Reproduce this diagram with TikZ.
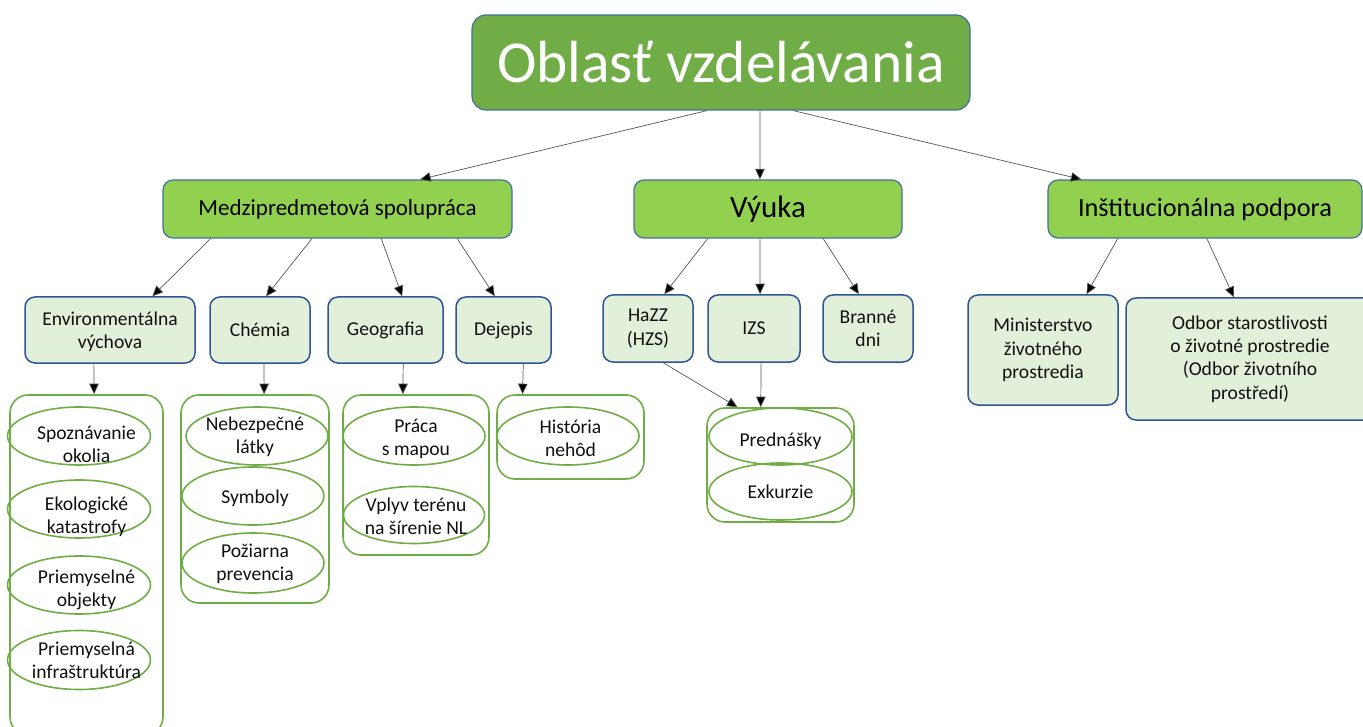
\documentclass[tikz,border=0pt]{standalone}
\usepackage{fontspec}
\setmainfont{Carlito}
\usetikzlibrary{shapes.geometric,arrows.meta,calc}
\definecolor{topgreen}{HTML}{70AD47}
\definecolor{midgreen}{HTML}{92D050}
\definecolor{leafgreen}{HTML}{E2F0D9}
\definecolor{boxblue}{HTML}{41719C}
\definecolor{leafblue}{HTML}{2F5597}
\definecolor{contgreen}{HTML}{70AD47}
\definecolor{txt}{HTML}{111111}
\definecolor{arrgray}{HTML}{555555}
\tikzset{
  topbox/.style={rectangle, rounded corners=14pt, fill=topgreen, draw=boxblue, line width=1.2pt, text=white, inner sep=0pt, font=\fontsize{59.5}{70}\selectfont},
  midbox/.style={rectangle, rounded corners=10pt, fill=midgreen, draw=boxblue, line width=1.2pt, text=black, inner sep=0pt},
  leafbox/.style={rectangle, rounded corners=10pt, fill=leafgreen, draw=leafblue, line width=1.5pt, text=txt, inner sep=0pt, align=center, font=\fontsize{19.6}{23.2}\selectfont},
  contbox/.style={rectangle, rounded corners=18pt, draw=contgreen, line width=1.6pt, fill=white, inner sep=0pt},
  ell/.style={ellipse, draw=contgreen, line width=1.6pt, inner sep=0pt},
  etext/.style={text=txt, align=center, inner sep=0pt, font=\fontsize{19.6}{23.2}\selectfont},
  arr/.style={draw=arrgray, line width=0.7pt, -{Triangle[length=10.5pt,width=9.5pt,fill=black]}},
}
\begin{document}
\begin{tikzpicture}[x=1pt,y=-1pt]
\useasboundingbox (0,0) rectangle (1363,727);
% top
\node[topbox, minimum width=498pt, minimum height=95pt] (top) at (721,62.5) {Oblasť vzdelávania};
% level 2
\node[midbox, minimum width=349pt, minimum height=58pt, font=\fontsize{23}{28}\selectfont] (medzi) at (337.5,209) {Medzipredmetová spolupráca};
\node[midbox, minimum width=268pt, minimum height=58pt, font=\fontsize{31}{37}\selectfont] (vyuka) at (768,209) {Výuka};
\node[midbox, minimum width=314pt, minimum height=58pt, font=\fontsize{26.3}{31}\selectfont] (inst) at (1205,209) {Inštitucionálna podpora};
% level 3
\node[leafbox, minimum width=170pt, minimum height=66pt, text depth=0pt] (env) at (110,330) {Environmentálna\\výchova\rule{0pt}{0pt}};
\node[leafbox, minimum width=100pt, minimum height=66pt] (chem) at (260,330) {Chémia};
\node[leafbox, minimum width=115pt, minimum height=66pt] (geo) at (385.5,330) {Geografia};
\node[leafbox, minimum width=95pt, minimum height=66pt] (dej) at (503.5,330) {Dejepis};
\node[leafbox, minimum width=90pt, minimum height=67pt] (hazz) at (648,328.5) {HaZZ\\(HZS)};
\node[leafbox, minimum width=92pt, minimum height=67pt] (izs) at (754,328.5) {IZS};
\node[leafbox, minimum width=90pt, minimum height=67pt] (branne) at (868,328.5) {Branné\\dni};
\node[leafbox, minimum width=150pt, minimum height=110pt] (minis) at (1043,350) {Ministerstvo\\životného\\prostredia};
\node[leafbox, minimum width=248pt, minimum height=122pt] (odbor) at (1250,359) {Odbor starostlivosti\\o životné prostredie\\(Odbor životního\\prostředí)};
% containers
\node[contbox, minimum width=153pt, minimum height=340pt] (envc) at (86.5,565) {};
\node[contbox, minimum width=148pt, minimum height=208pt] (chemc) at (255,499) {};
\node[contbox, minimum width=146pt, minimum height=160pt] (geoc) at (416,475) {};
\node[contbox, minimum width=147pt, minimum height=84pt] (dejc) at (570.5,437) {};
\node[contbox, minimum width=147pt, minimum height=114pt] (vyc) at (780.5,465) {};
% ellipses
\node[ell, minimum width=143pt, minimum height=58pt] (e1) at (79,436) {};
\node[ell, minimum width=143pt, minimum height=58pt] (e2) at (79,509) {};
\node[ell, minimum width=143pt, minimum height=58pt] (e3) at (79,585) {};
\node[ell, minimum width=143pt, minimum height=59pt] (e4) at (79,660) {};
\node[ell, minimum width=142pt, minimum height=58pt] (c1) at (257,436) {};
\node[ell, minimum width=142pt, minimum height=58pt] (c2) at (253,496) {};
\node[ell, minimum width=142pt, minimum height=60pt] (c3) at (253,563) {};
\node[ell, minimum width=142pt, minimum height=58pt] (g1) at (414,436) {};
\node[ell, minimum width=141pt, minimum height=57pt] (g2) at (414,515) {};
\node[ell, minimum width=142pt, minimum height=58pt] (d1) at (568,436) {};
\node[ell, minimum width=143pt, minimum height=57pt] (v1) at (780.5,436.5) {};
\node[ell, minimum width=143pt, minimum height=57pt] (v2) at (780.5,491.5) {};
% ellipse texts
\node[etext] (t1) at (envc.center |- e1.center) [yshift=-8pt] {Spoznávanie\\okolia};
\node[etext] (t2) at (envc.center |- e2.center) [yshift=-8pt] {Ekologické\\katastrofy};
\node[etext] (t3) at (envc.center |- e3.center) [yshift=-5pt] {Priemyselné\\objekty};
\node[etext] (t4) at (envc.center |- e4.center) {Priemyselná\\infraštruktúra};
\node[etext] (t5) at (chemc.center |- c1.center) [yshift=-1pt] {Nebezpečné\\látky};
\node[etext] (t6) at (chemc.center |- c2.center) [yshift=-2pt] {Symboly};
\node[etext] (t7) at (chemc.center |- c3.center) [yshift=-1pt] {Požiarna\\prevencia};
\node[etext] (t8) at (geoc.center |- g1.center) [yshift=-3pt] {Práca\\s mapou};
\node[etext] (t9) at (geoc.center |- g2.center) [yshift=-1pt] {Vplyv terénu\\na šírenie NL};
\node[etext] (t10) at (dejc.center |- d1.center) [yshift=-2pt] {História\\nehôd};
\node[etext] (t11) at (vyc.center |- v1.center) [yshift=-5pt] {Prednášky};
\node[etext] (t12) at (vyc.center |- v2.center) {Exkurzie};
% connectors level 1
\draw[arr] ($(top.south west)!0.472!(top.south east)$) -- ($(medzi.north west)!0.736!(medzi.north east)$);
\draw[arr] ($(top.south west)!0.5783!(top.south east)$) -- ($(vyuka.north west)!0.4701!(vyuka.north east)$);
\draw[arr] ($(top.south west)!0.6446!(top.south east)$) -- ($(inst.north west)!0.108!(inst.north east)$);
% level 2
\draw[arr] ($(medzi.south west)!0.1375!(medzi.south east)$) -- ($(env.north west)!0.747!(env.north east)$);
\draw[arr] ($(medzi.south west)!0.427!(medzi.south east)$) -- ($(chem.north west)!0.56!(chem.north east)$);
\draw[arr] ($(medzi.south west)!0.625!(medzi.south east)$) -- ($(geo.north west)!0.643!(geo.north east)$);
\draw[arr] ($(medzi.south west)!0.842!(medzi.south east)$) -- ($(dej.north west)!0.41!(dej.north east)$);
\draw[arr] ($(vyuka.south west)!0.276!(vyuka.south east)$) -- ($(hazz.north west)!0.678!(hazz.north east)$);
\draw[arr] ($(vyuka.south west)!0.470!(vyuka.south east)$) -- ($(izs.north west)!0.565!(izs.north east)$);
\draw[arr] ($(vyuka.south west)!0.705!(vyuka.south east)$) -- ($(branne.north west)!0.4!(branne.north east)$);
\draw[arr] ($(inst.south west)!0.223!(inst.south east)$) -- ($(minis.north west)!0.787!(minis.north east)$);
\draw[arr] ($(inst.south west)!0.506!(inst.south east)$) -- ($(odbor.north west)!0.435!(odbor.north east)$);
% level 3 to containers
\draw[arr] ($(env.south west)!0.406!(env.south east)$) -- ($(envc.north west)!0.549!(envc.north east)$);
\draw[arr] ($(chem.south west)!0.54!(chem.south east)$) -- ($(chemc.north west)!0.561!(chemc.north east)$);
\draw[arr] ($(geo.south west)!0.652!(geo.south east)$) -- ($(geoc.north west)!0.411!(geoc.north east)$);
\draw[arr] ($(dej.south west)!0.705!(dej.south east)$) -- ($(dejc.north west)!0.177!(dejc.north east)$);
\draw[arr] ($(hazz.south west)!0.667!(hazz.south east)$) -- ($(vyc.north west)!0.211!(vyc.north east)$);
\draw[arr] ($(izs.south west)!0.576!(izs.south east)$) -- ($(vyc.north west)!0.367!(vyc.north east)$);
\end{tikzpicture}
\end{document}
